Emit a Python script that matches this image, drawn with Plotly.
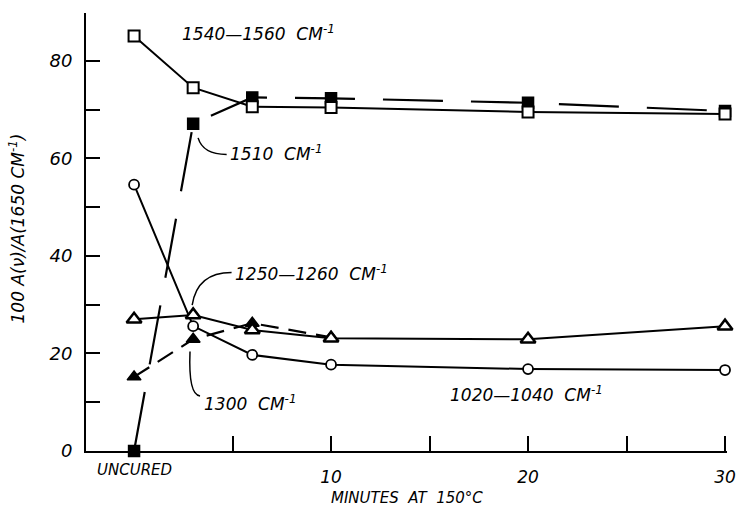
import plotly.graph_objects as go

# ---- data ----
minutes = [0, 3, 6, 10, 20, 30]
band_1540_1560 = [85.1, 74.5, 70.6, 70.4, 69.5, 69.1]
band_1510 = [0.0, 67.1, 72.5, 72.3, 71.4, 69.7]
band_1020_1040 = [54.6, 25.6, 19.7, 17.7, 16.8, 16.6]
band_1250_1260 = [27.0, 27.9, 24.8, 23.1, 22.9, 25.6]
minutes_1300 = [0, 3, 6, 10]
band_1300 = [15.2, 22.9, 26.2, 23.3]

x_tickvals = [10, 20, 30]
x_minor_ticks = [5, 15, 25]
y_tickvals = [0, 20, 40, 60, 80]
y_minor_ticks = [10, 30, 50, 70]

FONT = "DejaVu Sans"
BLACK = "black"

fig = go.Figure()

# 1510 (filled squares, long dashes)
fig.add_trace(go.Scatter(
    x=minutes, y=band_1510, mode="lines+markers",
    line=dict(color=BLACK, width=2.2, dash="60px,28px"),
    marker=dict(symbol="square", size=11, color=BLACK, line=dict(color=BLACK, width=1.5)),
    cliponaxis=False, showlegend=False))

# 1540-1560 (open squares)
fig.add_trace(go.Scatter(
    x=minutes, y=band_1540_1560, mode="lines+markers",
    line=dict(color=BLACK, width=2),
    marker=dict(symbol="square", size=11, color="white", line=dict(color=BLACK, width=2)),
    cliponaxis=False, showlegend=False))

# 1020-1040 (open circles)
fig.add_trace(go.Scatter(
    x=minutes, y=band_1020_1040, mode="lines+markers",
    line=dict(color=BLACK, width=2),
    marker=dict(symbol="circle", size=10, color="white", line=dict(color=BLACK, width=1.8)),
    cliponaxis=False, showlegend=False))

# 1300 (filled triangles, short dashes)
fig.add_trace(go.Scatter(
    x=minutes_1300, y=band_1300, mode="lines+markers",
    line=dict(color=BLACK, width=2.2, dash="18px,10px"),
    marker=dict(symbol="triangle-up", size=12, color=BLACK, line=dict(color=BLACK, width=1.5)),
    cliponaxis=False, showlegend=False))

# 1250-1260 (open triangles)
fig.add_trace(go.Scatter(
    x=minutes, y=band_1250_1260, mode="lines+markers",
    line=dict(color=BLACK, width=2),
    marker=dict(symbol="triangle-up", size=13, color="white", line=dict(color=BLACK, width=2.5)),
    cliponaxis=False, showlegend=False))

lab_font = dict(family=FONT, size=17, color=BLACK, style="italic")

labels = [
    ("1540—1560  CM<sup>-1</sup>", 2.34, 85.7),
    ("1510  CM<sup>-1</sup>", 4.77, 61.1),
    ("1250—1260  CM<sup>-1</sup>", 5.03, 36.5),
    ("1300  CM<sup>-1</sup>", 3.45, 9.8),
    ("1020—1040  CM<sup>-1</sup>", 15.94, 11.7),
]
annotations = []
for text, xx, yy in labels:
    annotations.append(dict(x=xx, y=yy, xref="x", yref="y", text=text, showarrow=False,
                            xanchor="left", yanchor="middle", font=lab_font))

# leader curves
shapes = [
    dict(type="path", xref="x", yref="y", path="M 3.25,64.2 Q 3.5,60.8 4.7,60.8",
         line=dict(color=BLACK, width=1.5)),
    dict(type="path", xref="x", yref="y", path="M 2.95,29.9 Q 3.2,36.6 4.95,36.6",
         line=dict(color=BLACK, width=1.5)),
    dict(type="path", xref="x", yref="y", path="M 2.84,20.4 Q 2.75,11.5 3.35,11.3",
         line=dict(color=BLACK, width=1.5)),
]

# UNCURED label and axis titles
annotations.append(dict(x=0, y=-0.044, xref="x", yref="paper", text="UNCURED", showarrow=False,
                        xanchor="center", yanchor="middle",
                        font=dict(family=FONT, size=15, color=BLACK, style="italic")))
annotations.append(dict(x=0.5, y=-0.108, xref="paper", yref="paper", text="MINUTES  AT  150°C",
                        showarrow=False, xanchor="center", yanchor="middle",
                        font=dict(family=FONT, size=15, color=BLACK, style="italic")))
annotations.append(dict(x=-0.107, y=0.509, xref="paper", yref="paper",
                        text="100 A(ν)/A(1650 CM<sup>-1</sup>)", textangle=-90,
                        showarrow=False, xanchor="center", yanchor="middle",
                        font=dict(family=FONT, size=17, color=BLACK, style="italic")))

fig.update_layout(
    width=737, height=510,
    margin=dict(l=86, r=10, t=13, b=59),
    paper_bgcolor="white", plot_bgcolor="white",
    annotations=annotations, shapes=shapes,
    xaxis=dict(range=[-2.44, 30.1], tickmode="array", tickvals=x_tickvals,
               ticks="inside", ticklen=15, tickwidth=2, tickcolor=BLACK,
               minor=dict(tickmode="array", tickvals=x_minor_ticks, ticks="inside",
                          ticklen=15, tickwidth=2, tickcolor=BLACK, showgrid=False),
               showline=True, linecolor=BLACK, linewidth=2, showgrid=False, zeroline=False,
               ticklabelstandoff=10, automargin=False,
               tickfont=dict(family=FONT, size=17, color=BLACK, style="italic")),
    yaxis=dict(range=[0, 89.8], tickmode="array", tickvals=y_tickvals,
               ticks="inside", ticklen=14, tickwidth=2, tickcolor=BLACK,
               minor=dict(tickmode="array", tickvals=y_minor_ticks, ticks="inside",
                          ticklen=14, tickwidth=2, tickcolor=BLACK, showgrid=False),
               showline=True, linecolor=BLACK, linewidth=2, showgrid=False, zeroline=False,
               ticklabelstandoff=8, automargin=False,
               tickfont=dict(family=FONT, size=18, color=BLACK, style="italic")),
)

fig.write_html("out.html", config={"displayModeBar": False},
               post_script="document.body.style.margin='0';document.body.style.overflow='hidden';")
